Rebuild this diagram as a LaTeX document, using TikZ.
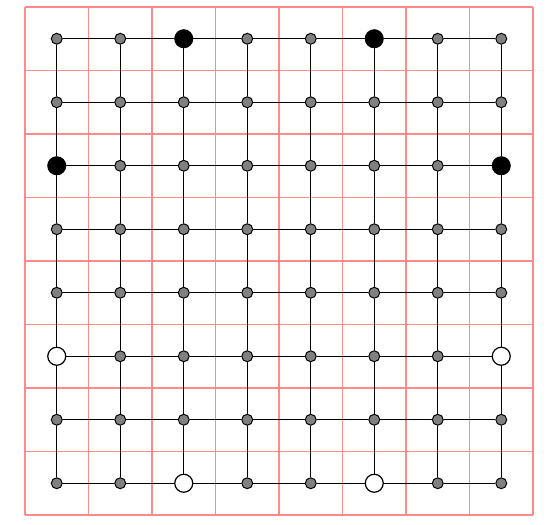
\documentclass[tikz,border=0pt]{standalone}
\definecolor{cellpink}{HTML}{FF8A8A}
\definecolor{dotgray}{HTML}{808080}
\tikzset{
  small/.style={circle,draw=black,fill=dotgray,line width=0.75pt,minimum size=8.2pt,inner sep=0pt},
  bigblack/.style={circle,draw=black,fill=black,line width=0.75pt,minimum size=13.5pt,inner sep=0pt},
  bigwhite/.style={circle,draw=black,fill=white,line width=0.9pt,minimum size=13.5pt,inner sep=0pt},
  edge/.style={draw=black,line width=0.95pt},
  cell/.style={draw=cellpink,line width=1.1pt}
}
\begin{document}
\begin{tikzpicture}[x=0.75pt,y=-0.75pt]
\useasboundingbox (0,0) rectangle (556,524);
% pink cells
\foreach \i in {0,...,8}{
  \draw[cell] ({25+63.5*\i},7) -- ({25+63.5*\i},515);
  \draw[cell] (25,{7+63.5*\i}) -- (533,{7+63.5*\i});
}
% nodes
\foreach \i in {0,...,7}{
  \foreach \j in {0,...,7}{
    \def\st{small}
    \ifnum\j=0 \ifnum\i=2 \def\st{bigblack}\fi \ifnum\i=5 \def\st{bigblack}\fi\fi
    \ifnum\j=2 \ifnum\i=0 \def\st{bigblack}\fi \ifnum\i=7 \def\st{bigblack}\fi\fi
    \ifnum\j=5 \ifnum\i=0 \def\st{bigwhite}\fi \ifnum\i=7 \def\st{bigwhite}\fi\fi
    \ifnum\j=7 \ifnum\i=2 \def\st{bigwhite}\fi \ifnum\i=5 \def\st{bigwhite}\fi\fi
    \node[\st] (n-\i-\j) at ({25+63.5*(\i+0.5)},{7+63.5*(\j+0.5)}) {};
  }
}
% edges
\foreach \i in {0,...,7}{
  \foreach \j [count=\k from 1] in {0,...,6}{
    \draw[edge] (n-\i-\j) -- (n-\i-\k);
    \draw[edge] (n-\j-\i) -- (n-\k-\i);
  }
}
\end{tikzpicture}
\end{document}
